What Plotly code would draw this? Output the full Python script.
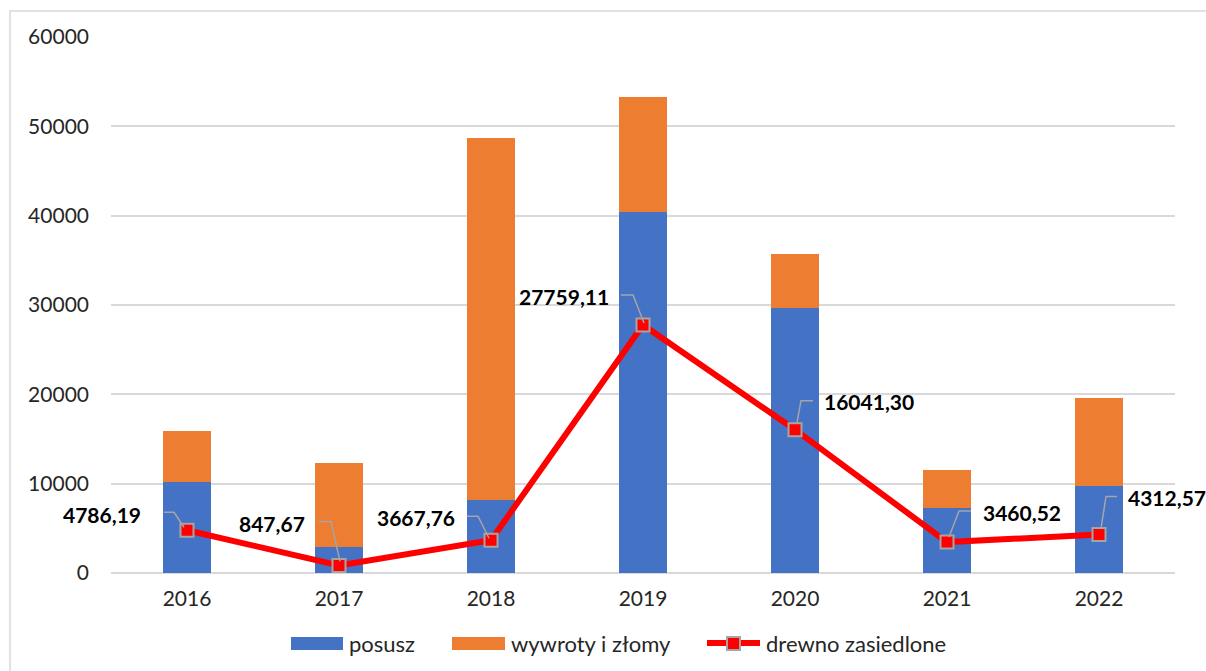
import plotly.graph_objects as go

years = [2016, 2017, 2018, 2019, 2020, 2021, 2022]
posusz = [10150, 2900, 8150, 40400, 29700, 7300, 9750]
wywroty = [5750, 9400, 40580, 12850, 6000, 4200, 9850]
drewno = [4786.19, 847.67, 3667.76, 27759.11, 16041.30, 3460.52, 4312.57]
labels = ["4786,19", "847,67", "3667,76", "27759,11", "16041,30", "3460,52", "4312,57"]
y_ticks = [0, 10000, 20000, 30000, 40000, 50000, 60000]

# label placement (pixel offsets from point): (dx, dy, side)
label_pos = [(-44, 16, "right"), (-32, 42, "right"), (-34, 23, "right"), (-32, 29, "right"),
             (27, 28, "left"), (34, 30, "left"), (27, 37, "left")]
leaders = ["M -23,18 L -13,18 L -3,3", "M -20,44 L -8,44 L 1,4", "M -24,24 L -13,24 L -2,2",
           "M -22,30 L -10,30 L 1,2", "M 18,29 L 6,29 L 2,7", "M 24,31 L 12,31 L 2,5",
           "M 18,38 L 7,38 L 2,6"]

FONT = "Lato, Calibri, Carlito, sans-serif"
BLUE, ORANGE, RED, GREY = "#4472C4", "#ED7D31", "#FF0000", "#A5A5A5"

# plot area in window pixels
W, H = 1206, 671
PL, PR, PT, PB = 111, 1175, 37, 573
def px(wx):
    return (wx - PL) / (PR - PL)
def py(wy):
    return (PB - wy) / (PB - PT)

fig = go.Figure()
fig.add_trace(go.Bar(x=years, y=posusz, name="posusz", marker_color=BLUE,
                     marker_line_width=0, showlegend=False))
fig.add_trace(go.Bar(x=years, y=wywroty, name="wywroty i złomy", marker_color=ORANGE,
                     marker_line_width=0, showlegend=False))
fig.add_trace(go.Scatter(x=years, y=drewno, name="drewno zasiedlone", mode="lines+markers",
                         line=dict(color=RED, width=6), showlegend=False,
                         marker=dict(symbol="square", size=13, color=RED,
                                     line=dict(color=GREY, width=2))))

for (x, y, lab, (dx, dy, side), path) in zip(years, drewno, labels, label_pos, leaders):
    fig.add_annotation(x=x, y=y, xref="x", yref="y", text="<b>" + lab + "</b>",
                       showarrow=False, xanchor=side, yanchor="middle",
                       xshift=dx, yshift=dy,
                       font=dict(family=FONT, size=21, color="#000000"))
    fig.add_shape(type="path", xref="x", yref="y", xsizemode="pixel", ysizemode="pixel",
                  xanchor=x, yanchor=y, path=path,
                  line=dict(color=GREY, width=1.5), layer="above")

# outer chart border
fig.add_shape(type="rect", xref="paper", yref="paper", x0=px(10), x1=1.2, y0=-0.4, y1=py(11),
              line=dict(color="#D9D9D9", width=1.5), layer="below")

# custom legend
leg_font = dict(family=FONT, size=22, color="#262626")
fig.add_shape(type="rect", xref="paper", yref="paper", x0=px(291), x1=px(343),
              y0=py(650), y1=py(637), fillcolor=BLUE, line_width=0)
fig.add_annotation(xref="paper", yref="paper", x=px(347), y=py(643), text="posusz",
                   showarrow=False, xanchor="left", yanchor="middle", font=leg_font)
fig.add_shape(type="rect", xref="paper", yref="paper", x0=px(452), x1=px(505),
              y0=py(650), y1=py(637), fillcolor=ORANGE, line_width=0)
fig.add_annotation(xref="paper", yref="paper", x=px(509), y=py(643), text="wywroty i złomy",
                   showarrow=False, xanchor="left", yanchor="middle", font=leg_font)
fig.add_shape(type="line", xref="paper", yref="paper", x0=px(707), x1=px(760),
              y0=py(643), y1=py(643), line=dict(color=RED, width=6))
fig.add_shape(type="rect", xref="paper", yref="paper", x0=px(727), x1=px(740),
              y0=py(650), y1=py(637), fillcolor=RED, line=dict(color=GREY, width=2))
fig.add_annotation(xref="paper", yref="paper", x=px(764), y=py(643), text="drewno zasiedlone",
                   showarrow=False, xanchor="left", yanchor="middle", font=leg_font)

fig.update_layout(
    width=W, height=H,
    margin=dict(l=PL, r=W - PR, t=PT, b=H - PB),
    barmode="stack", bargap=0.684,
    plot_bgcolor="white", paper_bgcolor="white",
    font=dict(family=FONT, size=21, color="#262626"),
    showlegend=False,
    xaxis=dict(range=[2015.5, 2022.5], tickvals=years, ticktext=[str(y) for y in years],
               showgrid=False, showline=False, zeroline=False, ticks="",
               ticklabelstandoff=11),
    yaxis=dict(range=[0, 60000], tickvals=y_ticks, showgrid=True, gridcolor="#D9D9D9",
               gridwidth=1.5, zeroline=True, zerolinecolor="#D9D9D9", zerolinewidth=1.5,
               showline=False, ticks="", ticklabelstandoff=21, tickformat="d"),
)

# remove the default 8px page margin so the figure fills the window exactly
fig.write_html("out.html", config={"displayModeBar": False},
               post_script="document.body.style.margin='0';document.body.style.overflow='hidden';")
